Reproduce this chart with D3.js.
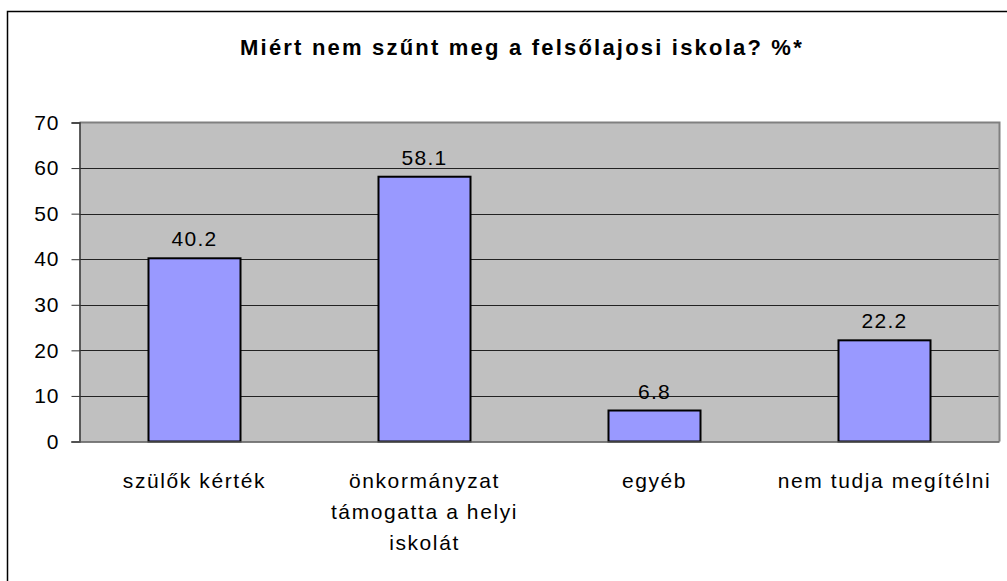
<!DOCTYPE html>
<html>
<head>
<meta charset="utf-8">
<script src="https://cdn.jsdelivr.net/npm/d3@7/dist/d3.min.js"></script>
<style>
  body { margin: 0; background: #fff; }
  svg { display: block; font-family: "Liberation Sans", Arial, sans-serif; }
</style>
</head>
<body>
<svg id="chart" width="1007" height="581"></svg>
<script>
// chart data
const title = "Miért nem szűnt meg a felsőlajosi iskola? %*";
const categories = [
    ["szülők kérték"],
    ["önkormányzat", "támogatta a helyi", "iskolát"],
    ["egyéb"],
    ["nem tudja megítélni"]
];
const values = [40.2, 58.1, 6.8, 22.2];
const yTicks = [0, 10, 20, 30, 40, 50, 60, 70];

const svg = d3.select("#chart");

// outer chart frame (right/bottom edges run off the picture)
svg.append("rect")
    .attr("x", 7.5).attr("y", 11.5)
    .attr("width", 1010).attr("height", 600)
    .attr("fill", "#fff").attr("stroke", "#000").attr("stroke-width", 1.5);

// plot area
const plot = { left: 79.5, right: 999.5, top: 122.5, bottom: 441.5 };

const x = d3.scaleBand()
    .domain(d3.range(values.length))
    .range([plot.left, plot.right])
    .paddingInner(0.6).paddingOuter(0.3);

const y = d3.scaleLinear().domain([0, 70]).range([plot.bottom, plot.top]);

svg.append("text")
    .attr("x", 522).attr("y", 55)
    .attr("text-anchor", "middle")
    .attr("font-size", 22).attr("font-weight", "bold")
    .attr("letter-spacing", 2.2)
    .text(title);

svg.append("rect")
    .attr("x", plot.left).attr("y", plot.top)
    .attr("width", plot.right - plot.left).attr("height", plot.bottom - plot.top)
    .attr("fill", "#c0c0c0");

// gridlines
svg.append("g")
    .selectAll("line")
    .data(yTicks.filter(t => t > 0 && t < 70))
    .join("line")
    .attr("x1", plot.left).attr("x2", plot.right)
    .attr("y1", d => Math.round(y(d)) + 0.5).attr("y2", d => Math.round(y(d)) + 0.5)
    .attr("stroke", "#222").attr("stroke-width", 1);

// plot border (top + right gray)
svg.append("path")
    .attr("d", `M${plot.left},${plot.top}H${plot.right}V${plot.bottom}`)
    .attr("fill", "none").attr("stroke", "#808080").attr("stroke-width", 2);

// bars
svg.append("g")
    .selectAll("rect")
    .data(values)
    .join("rect")
    .attr("x", (d, i) => x(i))
    .attr("y", d => y(d))
    .attr("width", x.bandwidth())
    .attr("height", d => y(0) - y(d))
    .attr("fill", "#9999ff")
    .attr("stroke", "#000").attr("stroke-width", 2);

// value labels
svg.append("g")
    .selectAll("text")
    .data(values)
    .join("text")
    .attr("x", (d, i) => x(i) + x.bandwidth() / 2)
    .attr("y", d => y(d) - 12)
    .attr("text-anchor", "middle")
    .attr("font-size", 21)
    .attr("letter-spacing", 1.3)
    .text(d => d.toFixed(1));

// y axis
const yAxis = svg.append("g")
    .attr("transform", `translate(${plot.left},0)`)
    .call(d3.axisLeft(y).tickValues(yTicks).tickSize(8).tickPadding(12));
yAxis.select(".domain").attr("stroke", "#333").attr("stroke-width", 1.5);
yAxis.selectAll(".tick line").attr("stroke", "#333");
yAxis.selectAll(".tick text")
    .attr("font-size", 21).attr("font-family", "Liberation Sans, Arial, sans-serif")
    .attr("letter-spacing", 1).attr("fill", "#000");

// x axis line
svg.append("line")
    .attr("x1", plot.left - 8).attr("x2", plot.right)
    .attr("y1", plot.bottom + 0.5).attr("y2", plot.bottom + 0.5)
    .attr("stroke", "#555").attr("stroke-width", 1.5);

// category labels
const catG = svg.append("g")
    .selectAll("text")
    .data(categories)
    .join("text")
    .attr("text-anchor", "middle")
    .attr("font-size", 21)
    .attr("letter-spacing", 1.6);
catG.selectAll("tspan")
    .data((d, i) => d.map(line => ({ line, i })))
    .join("tspan")
    .attr("x", d => x(d.i) + x.bandwidth() / 2)
    .attr("y", (d, j) => 488 + j * 31)
    .text(d => d.line);
</script>
</body>
</html>
